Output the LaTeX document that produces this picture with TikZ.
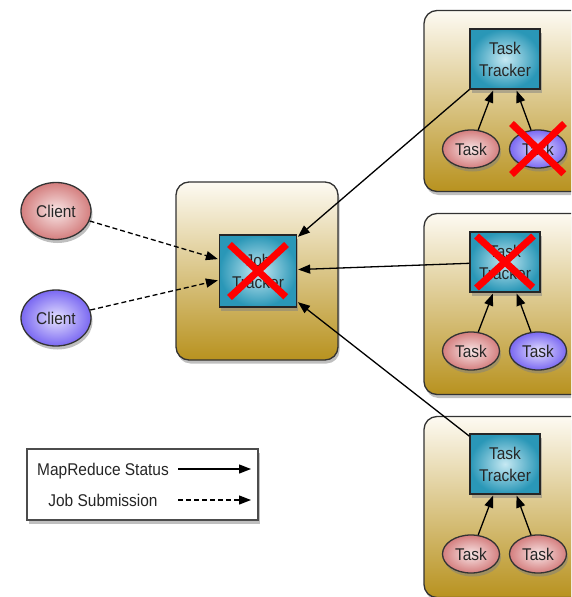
\documentclass[tikz,border=0pt]{standalone}
\usepackage{fontspec}
\newfontfamily\hdfont{Liberation Sans}[FakeStretch=0.91]
\usepackage{tikz}
\usetikzlibrary{positioning, arrows.meta, shapes.geometric, shapes.misc, shadows}
\usepackage{xcolor}

\definecolor{boxtop}{HTML}{FDFAF2}
\definecolor{boxbot}{HTML}{B8921F}
\definecolor{trackin}{HTML}{C6E9F3}
\definecolor{trackout}{HTML}{2A97B7}
\definecolor{pinkin}{HTML}{F8E6E6}
\definecolor{pinkout}{HTML}{D47E7E}
\definecolor{bluein}{HTML}{E4E0FE}
\definecolor{blueout}{HTML}{7A68F2}
\definecolor{failred}{HTML}{FF0000}

\begin{document}
\begin{tikzpicture}[x=1pt, y=-1pt, >={Stealth[inset=0pt,length=12pt,width=9pt]},
                shorten >=1pt, node distance=67pt, line width=1.3pt,
                font=\hdfont\fontsize{17}{22}\selectfont,
                every node/.style={text=black!85},
                softshadow/.style={drop shadow={shadow xshift=1.5pt, shadow yshift=-3.5pt, opacity=0.5}},
                cluster/.style={draw=black!80, rounded corners=13pt, top color=boxtop, bottom color=boxbot,
                    softshadow, minimum width=176pt, minimum height=181pt},
                tracker/.style={rectangle, draw=black!85, inner color=trackin, outer color=trackout,
                    softshadow, minimum width=70pt, minimum height=60pt, inner sep=0pt, align=center},
                job/.style={ellipse, draw=black!80, softshadow, minimum width=57pt, minimum height=38pt, inner sep=0pt},
                pinkjob/.style={job, inner color=pinkin, outer color=pinkout},
                bluejob/.style={job, inner color=bluein, outer color=blueout},
                failed/.style={cross out, draw=failred, line width=7pt},
                legend/.style={rectangle, draw=black!70, fill=white, softshadow, minimum width=231pt, minimum height=71pt},
                submit/.style={dash pattern=on 5pt off 3pt}]

                \useasboundingbox (0,0) rectangle (571,597);
                \clip (0,0) rectangle (571,597);

                \node[cluster] (box1) at (512,101) {};
                \node[cluster] (box2) at (512,304) {};
                \node[cluster] (box3) at (512,507) {};
                \node[cluster, minimum width=162pt, minimum height=178pt] (jtbox) at (257,271) {};

                \node[tracker, minimum width=77pt, minimum height=72pt] (jt) at (258,271) {Job\\Tracker};
                \node[tracker] (tt1) at (505,59) {Task\\Tracker};
                \node[tracker] (tt2) at (505,262) {Task\\Tracker};
                \node[tracker] (tt3) at (505,464) {Task\\Tracker};

                \node[pinkjob] (t1a) at (471,149) {Task};
                \node[bluejob] (t1b) [right of=t1a] {Task};
                \node[pinkjob] (t2a) at (471,351) {Task};
                \node[bluejob] (t2b) [right of=t2a] {Task};
                \node[pinkjob] (t3a) at (471,554) {Task};
                \node[pinkjob] (t3b) [right of=t3a] {Task};

                \node[pinkjob, minimum width=70pt, minimum height=57pt] (c1) at (56,211) {Client};
                \node[bluejob, minimum width=70pt, minimum height=56pt] (c2) at (56,318) {Client};

                \node[legend] (key) at (142.5,484.5) {};
                \node[anchor=base] (ks) at (103,475) {MapReduce Status};
                \node[anchor=base] (kj) at (103,506) {Job Submission};
                \coordinate (ksa) at (178,469);
                \coordinate (ksb) at (252,469);
                \coordinate (kja) at (178,500);
                \coordinate (kjb) at (252,500);

                \path[->]
                (t1a) edge (tt1)
                (t1b) edge (tt1)
                (t2a) edge (tt2)
                (t2b) edge (tt2)
                (t3a) edge (tt3)
                (t3b) edge (tt3)
                (tt1) edge (jt)
                (tt2) edge (jt)
                (tt3) edge (jt)
                (ksa) edge (ksb);

                \path[->, submit]
                (c1) edge (jt)
                (c2) edge (jt)
                (kja) edge (kjb);

                \node[failed, minimum width=50pt, minimum height=46pt] (jtx) at (jt) {};
                \node[failed, minimum width=50pt, minimum height=45pt] (tt2x) at (tt2) {};
                \node[failed, minimum width=46pt, minimum height=44pt] (t1bx) at (t1b) {};

            \end{tikzpicture}
\end{document}
